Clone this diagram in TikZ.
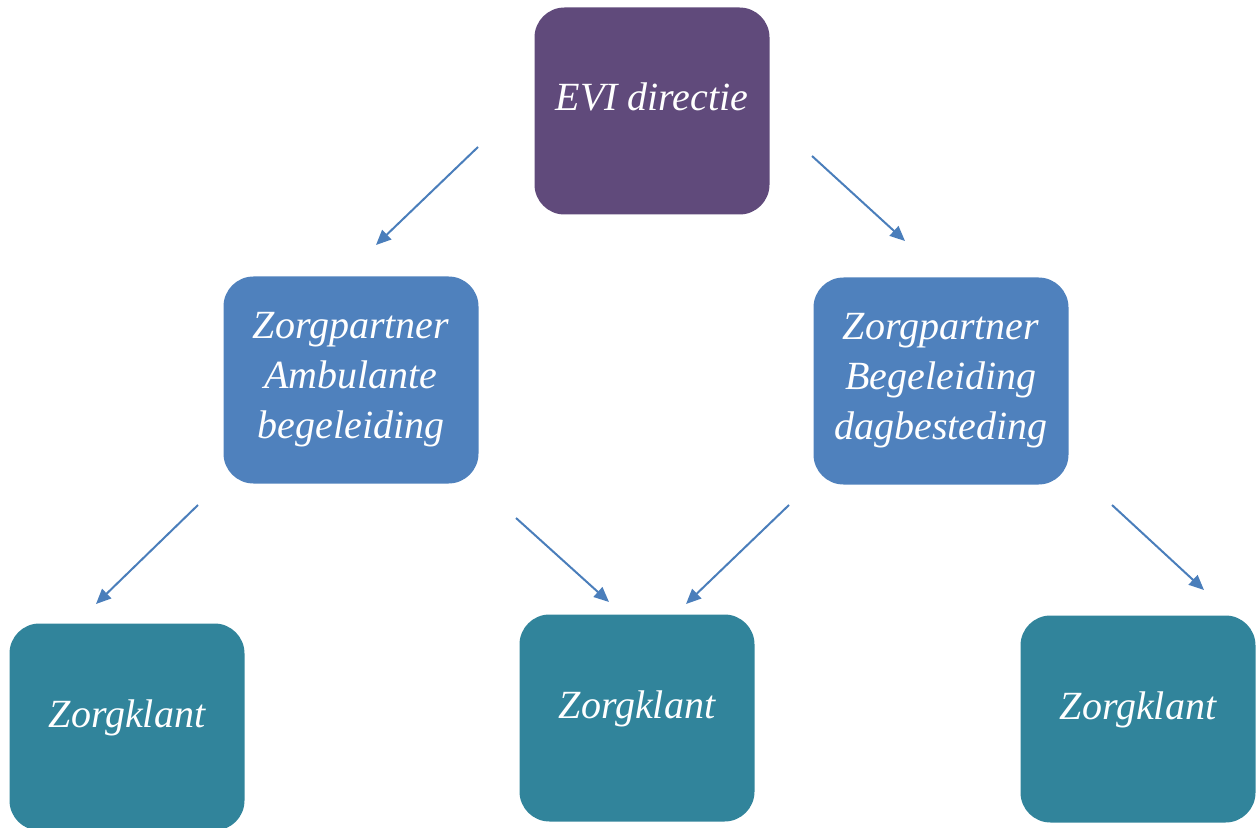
\documentclass[tikz,border=0pt]{standalone}
\usepackage{fontspec}
\setmainfont{Liberation Serif}
\usetikzlibrary{arrows.meta}
\definecolor{evipurple}{HTML}{604A7B}
\definecolor{partnerblue}{HTML}{4F81BD}
\definecolor{klantteal}{HTML}{31849B}
\definecolor{linkblue}{HTML}{4A7EBB}
\begin{document}
\begin{tikzpicture}[x=0.5pt, y=-0.5pt]
  \tikzstyle{box}=[rounded corners=15pt, inner sep=0pt, text=white, align=center,
    font=\fontsize{20}{25}\selectfont\itshape, minimum width=117.5pt, minimum height=103.5pt]
  \tikzstyle{lifted}=[text height=14pt, text depth=14pt]
  \tikzstyle{wide}=[minimum width=127.5pt]
  \tikzstyle{link}=[draw=linkblue, line width=1pt, -{Triangle[length=7.5pt, width=6.5pt]}]

  \useasboundingbox (0,0) rectangle (1256,828);

  \node[box, lifted, fill=evipurple]  (evi) at (652,  111) {EVI directie};
  \node[box, wide, fill=partnerblue]  (za)  at (351,  380) {Zorgpartner\\Ambulante\\begeleiding};
  \node[box, wide, fill=partnerblue]  (zb)  at (941,  381) {Zorgpartner\\Begeleiding\\dagbesteding};
  \node[box, lifted, fill=klantteal]  (k1)  at (127,  727) {Zorgklant};
  \node[box, lifted, fill=klantteal]  (k2)  at (637,  718) {Zorgklant};
  \node[box, lifted, fill=klantteal]  (k3)  at (1138, 719) {Zorgklant};

  \coordinate (evi-l) at (478,  147);
  \coordinate (za-t)  at (376,  245);
  \coordinate (evi-r) at (812,  156);
  \coordinate (zb-t)  at (905,  241);
  \coordinate (za-l)  at (198,  505);
  \coordinate (k1-t)  at (96,   604);
  \coordinate (za-r)  at (516,  518);
  \coordinate (k2-l)  at (609,  602);
  \coordinate (zb-l)  at (789,  505);
  \coordinate (k2-r)  at (686,  604);
  \coordinate (zb-r)  at (1112, 505);
  \coordinate (k3-t)  at (1204, 590);

  \path (evi-l) edge[link] (za-t);
  \path (evi-r) edge[link] (zb-t);
  \path (za-l)  edge[link] (k1-t);
  \path (za-r)  edge[link] (k2-l);
  \path (zb-l)  edge[link] (k2-r);
  \path (zb-r)  edge[link] (k3-t);
\end{tikzpicture}
\end{document}
